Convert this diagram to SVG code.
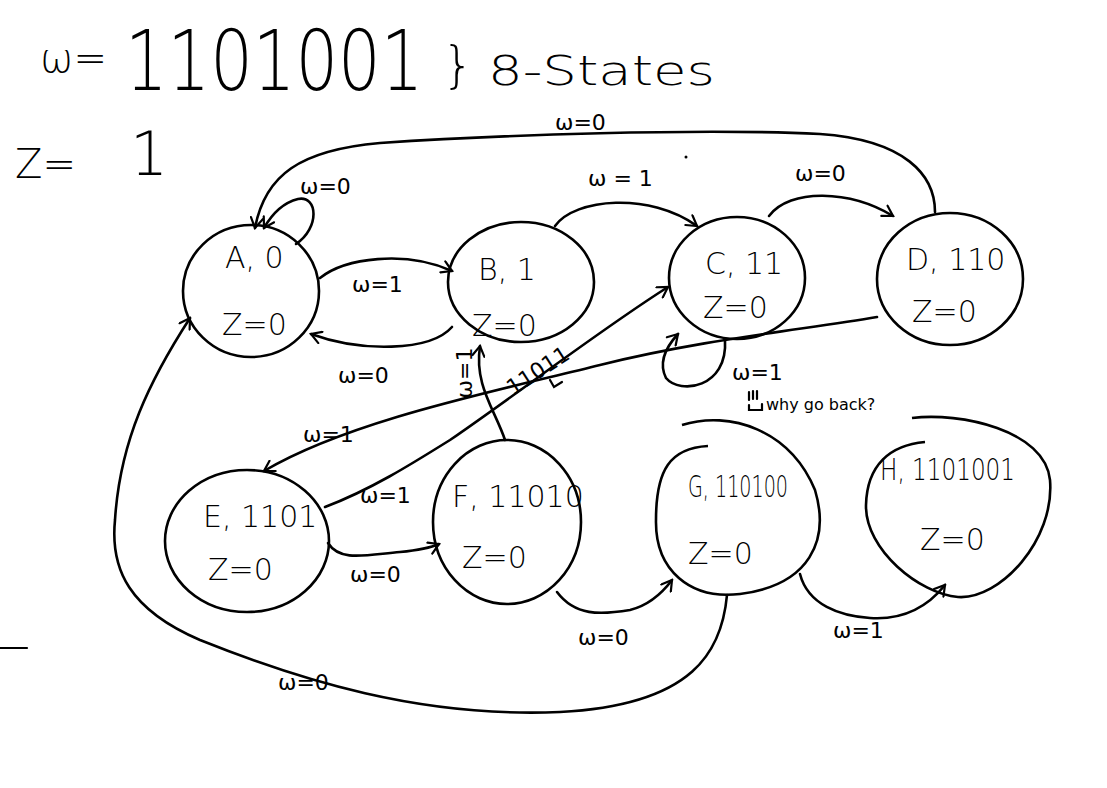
<svg xmlns="http://www.w3.org/2000/svg" width="1107" height="788" viewBox="0 0 1107 788">
<style>
.n{fill:none;stroke:#000;stroke-width:2.6}
.c{fill:none;stroke:#000;stroke-width:2.6;stroke-linecap:round;marker-end:url(#ah)}
.p{fill:none;stroke:#000;stroke-width:2.2;stroke-linecap:round}
text{font-family:"DejaVu Sans","Liberation Sans",sans-serif;fill:#000}
.t{font-size:30px;font-weight:300}
.l{font-size:22px}
.h{font-size:40px;font-weight:300}
</style>
<defs>
<marker id="ah" viewBox="0 0 14 14" refX="12" refY="7" markerWidth="14" markerHeight="14" markerUnits="userSpaceOnUse" orient="auto">
<path d="M2,1 L12,7 L2,13" fill="none" stroke="#000" stroke-width="2.2" stroke-linecap="round"/>
</marker>
</defs>
<rect width="1107" height="788" fill="#fff"/>
<g id="header">
<text x="40" y="72" class="h">ω=</text>
<text transform="translate(125,90) scale(1,1.25)" style="font-size:67px;font-weight:200">1101001</text>
<text x="442" y="82" style="font-size:50px;font-weight:200">}</text>
<text x="488" y="85" class="h" textLength="227" lengthAdjust="spacingAndGlyphs">8-States</text>
<text x="15" y="178" class="h">Z=</text>
<text x="130" y="175" style="font-size:60px;font-weight:200">1</text>
<path class="p" d="M0,648 L27,648"/>
<circle cx="686" cy="157" r="1.5" fill="#000"/>
</g>
<g id="connectors">
<path class="c" d="M935,212 C935,175 905,140 820,134 C700,128 500,135 380,143 C300,150 265,175 255,228"/>
<path class="c" d="M296,244 C320,228 318,195 298,199 C282,203 272,214 264,228"/>
<path class="c" d="M320,278 C345,258 405,250 452,271"/>
<path class="c" d="M452,327 C430,352 360,352 311,334"/>
<path class="c" d="M555,226 C575,198 650,192 697,226"/>
<path class="c" d="M769,216 C790,188 850,190 893,216"/>
<path class="c" d="M725,340 C728,388 680,395 666,378 C658,362 666,347 678,334"/>
<path class="c" d="M877,317 C800,330 700,340 600,365 C500,390 350,420 264,471"/>
<path class="c" d="M325,507 C370,490 410,465 450,440 C520,392 600,330 668,287"/>
<path class="c" d="M328,543 C340,562 365,555 400,552 C420,550 430,548 439,544"/>
<path class="c" d="M505,440 C495,410 474,385 480,346"/>
<path class="c" d="M557,592 C575,616 600,615 630,610 C650,605 663,592 672,580"/>
<path class="c" d="M800,574 C808,605 840,616 870,618 C900,620 925,610 945,585"/>
<path class="c" d="M727,595 C722,650 695,705 560,712 C420,718 300,680 200,640 C130,610 110,570 115,520 C120,440 150,380 190,318"/>
<text x="555" y="130" class="l">ω=0</text>
<text x="300" y="194" class="l">ω=0</text>
<text x="588" y="186" class="l">ω = 1</text>
<text x="795" y="181" class="l">ω=0</text>
<text x="352" y="292" class="l">ω=1</text>
<text x="338" y="383" class="l">ω=0</text>
<text transform="translate(472,373) rotate(-90)" text-anchor="middle" class="l">ω=1</text>
<text transform="translate(542,377) rotate(-33)" text-anchor="middle" class="l">11011</text>
<path class="p" d="M550,380 L554,387 L562,382"/>
<text x="732" y="380" class="l">ω=1</text>
<path class="p" d="M749,392 L749,400 M753,391 L753,399 M757,391 L757,399 M749,405 L749,410 L762,410 L762,404"/>
<text x="766" y="410" style="font-size:16px">why go back?</text>
<text x="303" y="442" class="l">ω=1</text>
<text x="360" y="503" class="l">ω=1</text>
<text x="350" y="582" class="l">ω=0</text>
<text x="578" y="645" class="l">ω=0</text>
<text x="833" y="638" class="l">ω=1</text>
<text x="278" y="690" class="l">ω=0</text>
</g>
<g id="A">
<ellipse class="n" cx="251" cy="291" rx="68" ry="66"/>
<text x="225" y="268" class="t">A, 0</text>
<text x="222" y="335" class="t">Z=0</text>
</g>
<g id="B">
<ellipse class="n" cx="521" cy="282" rx="73" ry="60"/>
<text x="478" y="280" class="t">B, 1</text>
<text x="472" y="336" class="t">Z=0</text>
</g>
<g id="C">
<ellipse class="n" cx="737" cy="278" rx="68" ry="61"/>
<text x="705" y="274" class="t">C, 11</text>
<text x="703" y="318" class="t">Z=0</text>
</g>
<g id="D">
<ellipse class="n" cx="950" cy="279" rx="73" ry="66"/>
<text x="906" y="270" class="t">D, 110</text>
<text x="912" y="322" class="t">Z=0</text>
</g>
<g id="E">
<ellipse class="n" cx="247" cy="541" rx="82" ry="71"/>
<text x="203" y="527" class="t">E, 1101</text>
<text x="208" y="580" class="t">Z=0</text>
</g>
<g id="F">
<ellipse class="n" cx="507" cy="522" rx="74" ry="82"/>
<text x="452" y="507" class="t">F, 11010</text>
<text x="462" y="568" class="t">Z=0</text>
</g>
<g id="G">
<path class="n" d="M682,425 C730,410 790,430 815,490 C830,540 810,585 740,594 C690,600 655,570 656,520 C656,470 670,448 708,446"/>
<text x="688" y="497" class="t" textLength="100" lengthAdjust="spacingAndGlyphs">G, 110100</text>
<text x="688" y="564" class="t">Z=0</text>
</g>
<g id="H">
<path class="n" d="M912,418 C960,412 1045,430 1050,480 C1055,540 1000,600 958,597 C920,594 865,550 866,505 C867,465 890,445 925,442"/>
<text x="880" y="480" class="t" textLength="135" lengthAdjust="spacingAndGlyphs">H, 1101001</text>
<text x="920" y="550" class="t">Z=0</text>
</g>
</svg>
